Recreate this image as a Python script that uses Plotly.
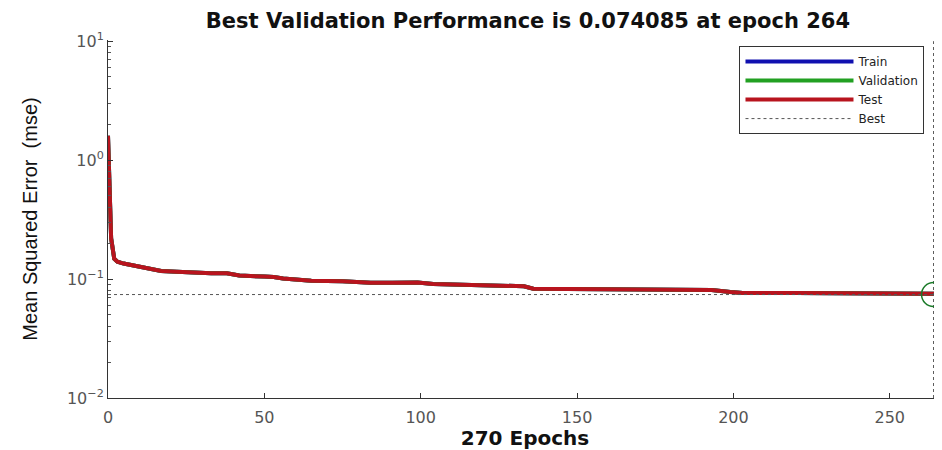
import plotly.graph_objects as go

# ---- data ----
epochs = [0, 1, 2, 3, 5, 8, 10, 14, 17, 22, 27, 33, 38, 40, 42, 50, 53, 56, 59, 65,
          75, 84, 91, 99, 104, 115, 125, 133, 136, 150, 168, 180, 193, 199, 203, 220,
          240, 255, 264, 270]
train_mse = [1.6, 0.22, 0.148, 0.140, 0.135, 0.130, 0.126, 0.121, 0.117, 0.115, 0.113,
             0.112, 0.112, 0.109, 0.107, 0.105, 0.104, 0.101, 0.099, 0.097, 0.096, 0.093,
             0.093, 0.0935, 0.091, 0.089, 0.088, 0.087, 0.083, 0.0825, 0.082, 0.082,
             0.081, 0.078, 0.0765, 0.0762, 0.076, 0.0755, 0.0752, 0.075]
val_mse = list(train_mse)
test_mse = list(train_mse)

best_epoch = 264
best_perf = 0.074085
n_epochs = 270

y_tickvals = [0.01, 0.1, 1, 10]
y_ticktext = ["10<sup>\u22122</sup>", "10<sup>\u22121</sup>", "10<sup>0</sup>", "10<sup>1</sup>"]
y_minor_vals = [m * d for d in (0.01, 0.1, 1) for m in range(2, 10)]
x_tickvals = [0, 50, 100, 150, 200, 250]

font_wide = "DejaVu Sans, Verdana, sans-serif"
font_narrow = "Liberation Sans Narrow, Liberation Sans, Arial, sans-serif"

fig = go.Figure()
fig.add_trace(go.Scatter(x=epochs, y=train_mse, mode="lines", name="Train",
                         line=dict(color="#1010b0", width=4)))
fig.add_trace(go.Scatter(x=epochs, y=val_mse, mode="lines", name="Validation",
                         line=dict(color="#22a022", width=4)))
fig.add_trace(go.Scatter(x=epochs, y=test_mse, mode="lines", name="Test",
                         line=dict(color="#b8141e", width=4)))
fig.add_trace(go.Scatter(x=[0, n_epochs], y=[best_perf, best_perf],
                         mode="lines", name="Best", legendgroup="best",
                         line=dict(color="#555555", width=1, dash="dot")))
fig.add_trace(go.Scatter(x=[best_epoch, best_epoch], y=[y_tickvals[0], y_tickvals[-1]],
                         mode="lines", name="Best", legendgroup="best", showlegend=False,
                         line=dict(color="#555555", width=1, dash="dot")))
# best validation point: open green circle
fig.add_trace(go.Scatter(x=[best_epoch], y=[best_perf], mode="markers", showlegend=False,
                         name="Best point", hoverinfo="skip",
                         marker=dict(symbol="circle-open", size=24, color="#1a7a28",
                                     line=dict(color="#1a7a28", width=1.5))))

# page has an 8px body margin, so the figure is sized to fill the 942x450 window
fig.update_layout(
    width=934, height=442,
    margin=dict(l=100, r=0, t=32, b=52),
    paper_bgcolor="white", plot_bgcolor="white",
    title=dict(text="<b>Best Validation Performance is 0.074085 at epoch 264</b>",
               x=0.5567, xanchor="center", y=0.972, yanchor="middle",
               font=dict(family=font_wide, size=21, color="#111111")),
    font=dict(family=font_wide),
    legend=dict(x=0.979, y=0.983, xanchor="right", yanchor="top",
                bgcolor="white", bordercolor="#333333", borderwidth=1,
                font=dict(family=font_wide, size=12, color="#222222"),
                itemwidth=108, tracegroupgap=0),
    showlegend=True,
)

fig.update_xaxes(range=[0, 266.7], tickvals=x_tickvals, ticks="inside", ticklen=5,
                 tickcolor="#333333", showline=True, linecolor="#333333", linewidth=1,
                 showgrid=False, zeroline=False, mirror=False, automargin=False,
                 ticklabelstandoff=5,
                 tickfont=dict(family=font_wide, size=16, color="#555555"),
                 title=dict(text="<b>270 Epochs</b>", standoff=4,
                            font=dict(family=font_wide, size=20, color="#111111")))

fig.update_yaxes(type="log", range=[-2, 1.01], tickvals=y_tickvals, ticktext=y_ticktext,
                 ticks="inside", ticklen=5, tickcolor="#333333",
                 showline=True, linecolor="#333333", linewidth=1,
                 showgrid=False, zeroline=False, mirror=False, automargin=False,
                 minor=dict(tickvals=y_minor_vals, ticks="inside", ticklen=3,
                            tickcolor="#555555", showgrid=False),
                 tickfont=dict(family=font_wide, size=16, color="#555555"),
                 title=dict(text="Mean Squared Error  (mse)", standoff=23,
                            font=dict(family=font_narrow, size=20, color="#111111")))

fig.write_html("out.html")
